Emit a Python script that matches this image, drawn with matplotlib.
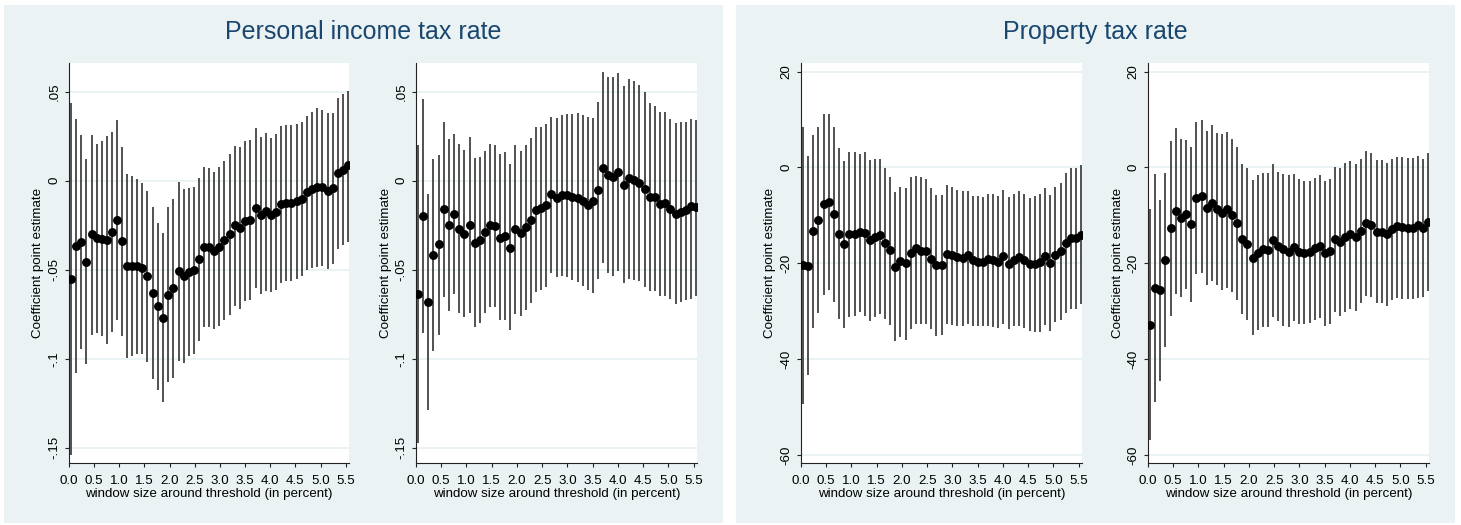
"""
RD robustness: coefficient estimates by window size around the threshold
"""

import matplotlib

matplotlib.use("Agg")
import matplotlib.pyplot as plt
from matplotlib.patches import Rectangle

plt.rcParams["font.family"] = ["Liberation Sans", "DejaVu Sans"]

# window sizes (percent) shared by all four specifications
window = [0.04, 0.14, 0.24, 0.34, 0.45, 0.55, 0.65, 0.75, 0.85, 0.95,
          1.06, 1.16, 1.26, 1.36, 1.46, 1.56, 1.67, 1.77, 1.87, 1.97,
          2.07, 2.18, 2.28, 2.38, 2.48, 2.58, 2.68, 2.79, 2.89, 2.99,
          3.09, 3.20, 3.30, 3.40, 3.50, 3.60, 3.71, 3.81, 3.91, 4.01,
          4.12, 4.22, 4.32, 4.42, 4.53, 4.63, 4.73, 4.83, 4.93, 5.03,
          5.14, 5.24, 5.34, 5.44, 5.55]

# personal income tax rate, left specification
pit_a_est = [-0.0554, -0.0367, -0.0346, -0.0457, -0.0302, -0.0324, -0.0326, -0.0331, -0.0288, -0.0223,
             -0.0341, -0.0478, -0.0478, -0.0481, -0.0493, -0.0537, -0.0629, -0.0706, -0.0770, -0.0640,
             -0.0603, -0.0508, -0.0537, -0.0513, -0.0504, -0.0438, -0.0375, -0.0375, -0.0397, -0.0371,
             -0.0333, -0.0302, -0.0251, -0.0268, -0.0225, -0.0223, -0.0155, -0.0195, -0.0169, -0.0195,
             -0.0176, -0.0133, -0.0125, -0.0127, -0.0112, -0.0101, -0.0064, -0.0045, -0.0036, -0.0037,
             -0.0060, -0.0043, 0.0041, 0.0058, 0.0086]
pit_a_hi = [0.0434, 0.0345, 0.0255, 0.0120, 0.0258, 0.0204, 0.0223, 0.0251, 0.0272, 0.0339,
            0.0187, 0.0036, 0.0028, 0.0007, -0.0015, -0.0058, -0.0146, -0.0238, -0.0296, -0.0146,
            -0.0105, -0.0007, -0.0045, -0.0041, -0.0037, 0.0015, 0.0075, 0.0069, 0.0047, 0.0075,
            0.0112, 0.0150, 0.0195, 0.0187, 0.0223, 0.0227, 0.0294, 0.0243, 0.0266, 0.0242,
            0.0264, 0.0307, 0.0313, 0.0313, 0.0316, 0.0331, 0.0365, 0.0388, 0.0406, 0.0397,
            0.0378, 0.0382, 0.0463, 0.0485, 0.0504]
pit_a_lo = [-0.1541, -0.1082, -0.0948, -0.1032, -0.0867, -0.0858, -0.0873, -0.0916, -0.0848, -0.0785,
            -0.0873, -0.0994, -0.0985, -0.0974, -0.0976, -0.1017, -0.1114, -0.1176, -0.1245, -0.1133,
            -0.1107, -0.1011, -0.1024, -0.0987, -0.0974, -0.0901, -0.0824, -0.0824, -0.0835, -0.0816,
            -0.0783, -0.0753, -0.0702, -0.0721, -0.0674, -0.0670, -0.0603, -0.0635, -0.0622, -0.0627,
            -0.0614, -0.0573, -0.0566, -0.0566, -0.0551, -0.0537, -0.0502, -0.0491, -0.0485, -0.0481,
            -0.0496, -0.0466, -0.0382, -0.0363, -0.0343]

# personal income tax rate, right specification
pit_b_est = [-0.0639, -0.0199, -0.0684, -0.0416, -0.0358, -0.0161, -0.0247, -0.0187, -0.0272, -0.0298,
             -0.0247, -0.0348, -0.0331, -0.0287, -0.0249, -0.0253, -0.0320, -0.0313, -0.0376, -0.0273,
             -0.0296, -0.0262, -0.0223, -0.0165, -0.0154, -0.0137, -0.0077, -0.0096, -0.0079, -0.0082,
             -0.0092, -0.0099, -0.0114, -0.0135, -0.0114, -0.0051, 0.0073, 0.0032, 0.0019, 0.0051,
             -0.0024, 0.0017, 0.0004, -0.0013, -0.0047, -0.0092, -0.0094, -0.0129, -0.0127, -0.0159,
             -0.0189, -0.0178, -0.0163, -0.0142, -0.0148]
pit_b_hi = [0.0200, 0.0459, -0.0077, 0.0122, 0.0144, 0.0330, 0.0234, 0.0262, 0.0204, 0.0172,
            0.0245, 0.0129, 0.0133, 0.0167, 0.0206, 0.0199, 0.0148, 0.0159, 0.0092, 0.0200,
            0.0169, 0.0200, 0.0238, 0.0300, 0.0303, 0.0316, 0.0360, 0.0354, 0.0371, 0.0375,
            0.0375, 0.0382, 0.0367, 0.0360, 0.0354, 0.0444, 0.0609, 0.0581, 0.0581, 0.0603,
            0.0532, 0.0571, 0.0562, 0.0537, 0.0496, 0.0434, 0.0419, 0.0384, 0.0384, 0.0345,
            0.0326, 0.0330, 0.0331, 0.0348, 0.0343]
pit_b_lo = [-0.1472, -0.0858, -0.1288, -0.0955, -0.0865, -0.0652, -0.0732, -0.0637, -0.0745, -0.0764,
            -0.0742, -0.0820, -0.0798, -0.0742, -0.0708, -0.0710, -0.0785, -0.0781, -0.0841, -0.0751,
            -0.0758, -0.0727, -0.0685, -0.0627, -0.0612, -0.0596, -0.0519, -0.0543, -0.0534, -0.0539,
            -0.0558, -0.0567, -0.0592, -0.0614, -0.0629, -0.0552, -0.0461, -0.0517, -0.0536, -0.0506,
            -0.0577, -0.0552, -0.0558, -0.0562, -0.0596, -0.0618, -0.0620, -0.0646, -0.0646, -0.0667,
            -0.0695, -0.0680, -0.0670, -0.0663, -0.0648]

# property tax rate, left specification
prop_a_est = [-20.33, -20.54, -13.37, -11.00, -7.66, -7.24, -9.82, -13.85, -15.94, -13.85,
              -13.99, -13.50, -13.64, -15.24, -14.48, -14.13, -15.87, -17.33, -20.74, -19.56,
              -20.05, -17.89, -16.92, -17.40, -17.54, -19.07, -20.40, -20.33, -18.03, -18.24,
              -18.79, -19.00, -18.31, -19.42, -19.70, -19.70, -19.21, -19.28, -19.77, -18.59,
              -20.12, -19.28, -18.73, -19.28, -20.12, -20.12, -19.70, -18.52, -19.98, -18.31,
              -17.47, -15.80, -14.83, -14.69, -14.06]
prop_a_hi = [8.35, 2.37, 6.82, 8.35, 11.07, 11.14, 8.42, 3.97, 1.32, 3.20,
             3.13, 2.78, 3.20, 1.53, 1.81, 1.74, -0.07, -1.95, -5.22, -4.11,
             -4.39, -2.09, -1.88, -2.02, -2.51, -4.32, -5.78, -5.78, -3.62, -4.18,
             -4.80, -5.01, -4.94, -5.99, -6.06, -6.20, -5.57, -5.50, -5.99, -4.73,
             -6.26, -5.50, -4.87, -5.64, -6.33, -6.06, -5.57, -4.32, -5.85, -4.04,
             -3.20, -1.18, -0.14, -0.14, 0.49]
prop_a_lo = [-49.28, -43.37, -33.48, -30.35, -26.73, -25.62, -28.19, -31.74, -33.48, -31.19,
             -30.98, -30.28, -30.91, -32.16, -31.19, -30.56, -31.74, -32.93, -36.20, -35.36,
             -35.92, -33.69, -32.58, -32.65, -32.72, -33.76, -35.15, -35.01, -32.65, -32.79,
             -33.00, -33.06, -32.65, -33.00, -33.00, -33.06, -33.06, -33.41, -33.55, -32.58,
             -33.83, -33.06, -33.00, -33.55, -34.18, -34.32, -34.32, -32.93, -34.11, -32.37,
             -31.81, -30.49, -29.65, -29.45, -28.61]

# property tax rate, right specification
prop_b_est = [-32.79, -25.13, -25.62, -19.28, -12.74, -9.12, -10.58, -9.75, -11.90, -6.40,
              -5.99, -8.49, -7.38, -8.63, -9.54, -8.77, -10.02, -11.62, -14.90, -15.94,
              -18.86, -17.82, -17.12, -17.26, -15.17, -16.43, -17.12, -17.68, -16.57, -17.61,
              -17.96, -17.61, -16.92, -16.36, -17.96, -17.47, -15.04, -15.52, -14.55, -13.99,
              -14.62, -13.23, -11.62, -12.04, -13.50, -13.50, -13.99, -12.81, -12.25, -12.53,
              -12.60, -12.74, -12.04, -12.60, -11.42]
prop_b_hi = [-8.77, -1.39, -6.82, -1.25, 5.50, 8.21, 5.85, 5.71, 4.18, 9.40,
             9.82, 7.52, 8.77, 7.17, 6.89, 7.38, 5.99, 4.32, 0.70, -0.07,
             -2.65, -1.60, -1.25, -1.25, 0.70, -0.90, -1.46, -1.67, -1.32, -2.51,
             -2.78, -2.85, -2.23, -1.67, -2.92, -2.51, 0.00, -0.14, 0.84, 1.39,
             0.70, 1.81, 3.41, 2.92, 1.60, 1.60, 0.90, 1.74, 2.23, 2.09,
             2.02, 1.88, 2.37, 1.81, 2.92]
prop_b_lo = [-56.80, -48.94, -44.62, -37.45, -30.98, -26.52, -27.15, -25.34, -28.05, -22.28,
             -22.00, -24.57, -23.81, -24.57, -25.69, -25.20, -26.10, -27.64, -30.70, -31.81,
             -35.08, -34.04, -33.27, -33.27, -31.12, -32.02, -33.00, -33.27, -32.02, -32.65,
             -32.72, -32.44, -31.95, -31.39, -33.00, -32.58, -30.28, -30.98, -30.21, -29.45,
             -30.00, -28.26, -26.87, -27.08, -28.40, -28.40, -28.96, -27.70, -27.29, -27.43,
             -27.50, -27.43, -27.29, -27.15, -25.76]

pit_ticks = [0.05, 0.0, -0.05, -0.1, -0.15]
pit_ticklabels = [".05", "0", "-.05", "-.1", "-.15"]
prop_ticks = [20, 0, -20, -40, -60]
prop_ticklabels = ["20", "0", "-20", "-40", "-60"]
x_ticks = [0.0, 0.5, 1.0, 1.5, 2.0, 2.5, 3.0, 3.5, 4.0, 4.5, 5.0, 5.5]

W, H = 1461, 525
BG = "#eaf2f3"
TITLE_COLOR = "#1a476f"


def px_rect(left, top, right, bottom):
    return [left / W, 1 - bottom / H, (right - left) / W, (bottom - top) / H]


def coef_panel(fig, rect, est, lo, hi, ticks, ticklabels, ylim):
    ax = fig.add_axes(rect)
    ax.set_facecolor("white")
    ax.vlines(window, lo, hi, color="#333333", lw=1.2, zorder=2)
    ax.plot(window, est, "o", color="black", ms=5.4, zorder=3)
    ax.set_xlim(0, 5.565)
    ax.set_ylim(*ylim)
    ax.set_xticks(x_ticks)
    ax.set_xticklabels([f"{t:.1f}" for t in x_ticks], fontsize=9.6)
    ax.set_yticks(ticks)
    ax.set_yticklabels(ticklabels, fontsize=9.6, rotation=90, va="center")
    ax.grid(axis="y", color="#e6eff1", lw=1.1, zorder=0)
    ax.set_axisbelow(True)
    for side in ("top", "right"):
        ax.spines[side].set_visible(False)
    for side in ("left", "bottom"):
        ax.spines[side].set_color("#222222")
        ax.spines[side].set_linewidth(0.8)
    ax.tick_params(direction="out", length=3, width=0.8, color="#222222")
    ax.tick_params(axis="x", pad=6)
    ax.tick_params(axis="y", pad=3)
    ax.set_xlabel("window size around threshold (in percent)", fontsize=9.6, labelpad=0)
    ax.set_ylabel("Coefficient point estimate", fontsize=9.6, labelpad=3)
    return ax


fig = plt.figure(figsize=(W / 100, H / 100), dpi=100)

# panel backgrounds, kept behind the axes
for left, right in [(4, 723), (736, 1455)]:
    fig.patches.append(Rectangle((left / W, 0.004), (right - left) / W, 1 - 5 / H - 0.004,
                                 transform=fig.transFigure, facecolor=BG, edgecolor="none",
                                 zorder=-5))

fig.text(363 / W, 1 - 32 / H, "Personal income tax rate", ha="center", va="center",
         fontsize=18, color=TITLE_COLOR)
fig.text(1095 / W, 1 - 32 / H, "Property tax rate", ha="center", va="center",
         fontsize=18, color=TITLE_COLOR)

pit_ylim = (-0.1586, 0.0661)
prop_ylim = (-61.7, 21.8)

coef_panel(fig, px_rect(69, 63, 349, 463), pit_a_est, pit_a_lo, pit_a_hi,
           pit_ticks, pit_ticklabels, pit_ylim)
coef_panel(fig, px_rect(416, 63, 697, 463), pit_b_est, pit_b_lo, pit_b_hi,
           pit_ticks, pit_ticklabels, pit_ylim)
coef_panel(fig, px_rect(801, 63, 1082, 463), prop_a_est, prop_a_lo, prop_a_hi,
           prop_ticks, prop_ticklabels, prop_ylim)
coef_panel(fig, px_rect(1148, 63, 1429, 463), prop_b_est, prop_b_lo, prop_b_hi,
           prop_ticks, prop_ticklabels, prop_ylim)

fig.savefig("out.png", dpi=100)
plt.close(fig)
